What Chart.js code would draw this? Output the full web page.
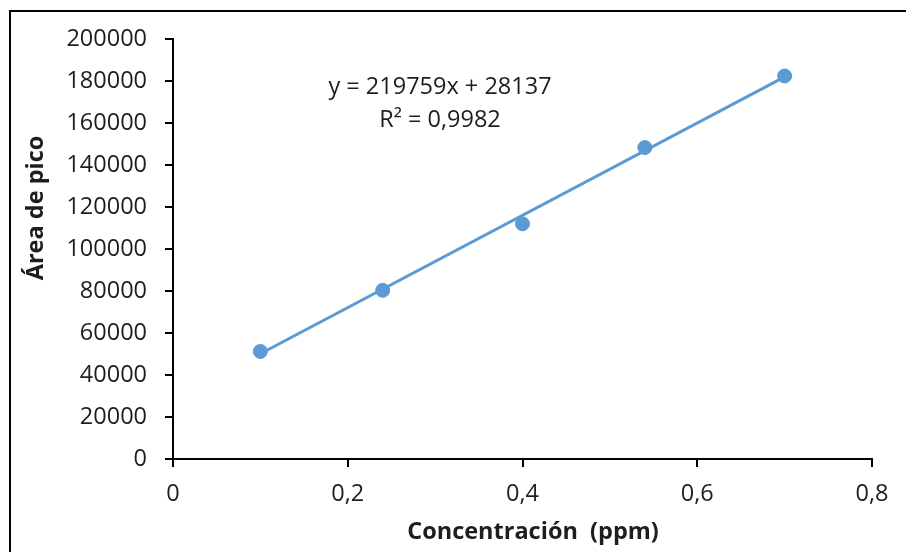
<!DOCTYPE html>
<html>
<head>
<meta charset="utf-8">
<script src="https://cdn.jsdelivr.net/npm/chart.js@4/dist/chart.umd.min.js"></script>
<style>
  html, body { margin: 0; padding: 0; background: #fff; }
  #wrap { position: relative; width: 906px; height: 552px; }
</style>
</head>
<body>
<div id="wrap"><canvas id="chart" width="906" height="552"></canvas></div>
<script>
// measured points
const concentracion = [0.1, 0.24, 0.4, 0.54, 0.7];
const areaPico = [51200, 80300, 112000, 148300, 182400];

// linear trendline, ends
const trendX = [0.1, 0.7];
const trendY = [50100, 182000];

const xTickLabels = ['0', '0,2', '0,4', '0,6', '0,8'];
const yTickLabels = ['0', '20000', '40000', '60000', '80000', '100000', '120000', '140000', '160000', '180000', '200000'];

const eqLines = ['y = 219759x + 28137', 'R² = 0,9982'];
const xTitle = 'Concentración  (ppm)';
const yTitle = 'Área de pico';

const blue = '#5B9BD5';
const ink = '#1e1e1e';
const fontFam = '"Open Sans", sans-serif';

const extras = {
    id: 'extras',
    beforeDraw(chart) {
        const c = chart.ctx;
        c.save();
        c.fillStyle = '#fff';
        c.fillRect(0, 0, chart.width, chart.height);
        // frame, only left and top edges visible
        c.strokeStyle = '#000';
        c.lineWidth = 2;
        c.beginPath();
        c.moveTo(10, chart.height);
        c.lineTo(10, 11);
        c.lineTo(chart.width, 11);
        c.stroke();
        c.restore();
    },
    afterDraw(chart) {
        const c = chart.ctx;
        c.save();
        c.fillStyle = ink;
        c.textAlign = 'center';
        c.textBaseline = 'middle';
        c.font = '23.5px ' + fontFam;
        c.fillText(eqLines[0], 440, 87);
        c.fillText(eqLines[1], 440, 120);

        c.font = 'bold 23.5px ' + fontFam;
        c.fillText(xTitle, 533, 532);

        c.translate(36, 208);
        c.rotate(-Math.PI / 2);
        c.fillText(yTitle, 0, 0);
        c.restore();
    }
};

const axisCommon = {
    border: { display: true, color: '#000', width: 2 },
    grid: { drawOnChartArea: false, drawTicks: true, tickLength: 8, color: '#000', lineWidth: 2 },
    title: { display: false }
};

new Chart(document.getElementById('chart'), {
    type: 'scatter',
    data: {
        datasets: [{
            label: 'Área de pico',
            data: concentracion.map((x, i) => ({ x: x, y: areaPico[i] })),
            backgroundColor: blue,
            borderColor: blue,
            pointRadius: 7,
            pointHoverRadius: 7,
            showLine: false
        }, {
            label: 'Lineal',
            data: trendX.map((x, i) => ({ x: x, y: trendY[i] })),
            borderColor: blue,
            borderWidth: 3,
            pointRadius: 0,
            showLine: true
        }]
    },
    options: {
        responsive: false,
        animation: false,
        devicePixelRatio: 1,
        layout: { padding: { left: 9, top: 39, right: 34, bottom: 0 } },
        plugins: {
            legend: { display: false },
            tooltip: { enabled: false }
        },
        scales: {
            x: {
                ...axisCommon,
                type: 'linear',
                min: 0,
                max: 0.8,
                ticks: {
                    stepSize: 0.2,
                    color: ink,
                    padding: 13,
                    font: { family: fontFam, size: 23.5 },
                    callback: (v, i) => xTickLabels[i]
                },
                afterFit(scale) { scale.height = 93; }
            },
            y: {
                ...axisCommon,
                min: 0,
                max: 200000,
                ticks: {
                    stepSize: 20000,
                    color: ink,
                    padding: 18,
                    font: { family: fontFam, size: 23.5 },
                    callback: (v, i) => yTickLabels[i]
                },
                afterFit(scale) { scale.width = 164; }
            }
        }
    },
    plugins: [extras]
});
</script>
</body>
</html>
